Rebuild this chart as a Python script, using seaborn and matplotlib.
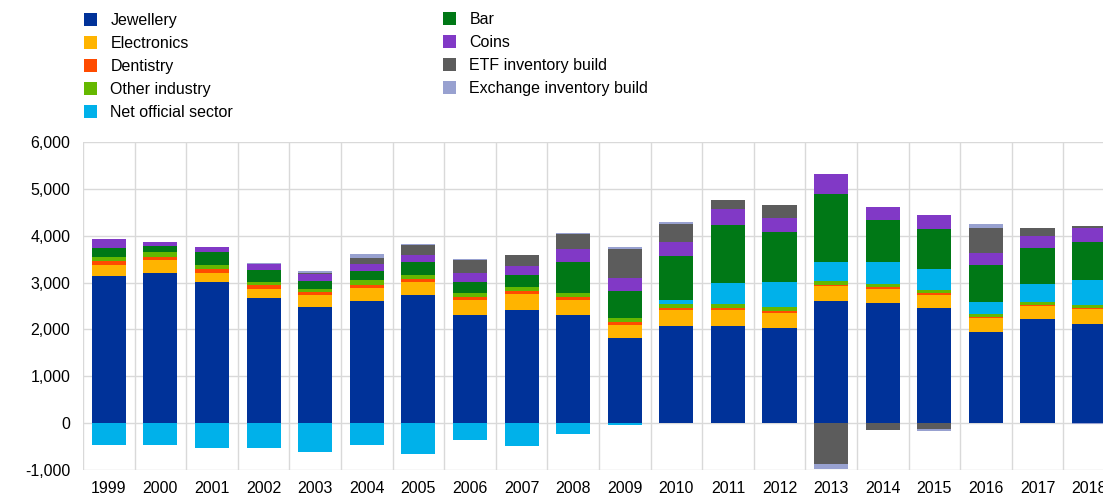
import matplotlib
matplotlib.use("Agg")
import matplotlib.pyplot as plt
from matplotlib.patches import Patch
import numpy as np
import pandas as pd
import seaborn as sns

years = [str(y) for y in range(1999, 2019)]

jewellery = [3132, 3203, 3004, 2662, 2484, 2612, 2726, 2299, 2420, 2299,
             1815, 2064, 2064, 2036, 2612, 2555, 2463, 1950, 2214, 2121]
electronics = [249, 285, 206, 206, 242, 278, 292, 334, 342, 334,
               285, 356, 356, 320, 306, 306, 277, 285, 277, 306]
dentistry = [71, 64, 71, 72, 64, 64, 50, 50, 49, 50,
             49, 36, 36, 35, 36, 36, 36, 28, 29, 29]
other_industry = [100, 106, 100, 78, 78, 92, 92, 93, 100, 100,
                  93, 92, 78, 79, 78, 71, 64, 57, 71, 71]
net_official = [-470, -470, -520, -541, -619, -470, -655, -363, -484, -228,
                -43, 71, 462, 541, 406, 470, 448, 271, 370, 533]
bar = [185, 114, 263, 242, 171, 207, 271, 242, 242, 655,
       569, 940, 1239, 1060, 1445, 889, 861, 776, 776, 798]
coins = [185, 100, 107, 128, 142, 149, 149, 185, 199, 270,
         285, 299, 327, 299, 434, 278, 292, 263, 249, 299]
etf = [0, 0, 0, 0, 29, 128, 214, 277, 242, 320,
       619, 384, 192, 278, -875, -149, -121, 534, 178, 57]
exchange = [0, 0, -10, 28, 36, 86, 35, 22, 0, 29,
            36, 50, 0, 0, -100, 0, -43, 85, 0, -20]

series = ["Jewellery", "Electronics", "Dentistry", "Other industry", "Net official sector",
          "Bar", "Coins", "ETF inventory build", "Exchange inventory build"]
colors = ["#003299", "#ffb400", "#ff4b00", "#65b800", "#00b1ea",
          "#007816", "#8139c6", "#5c5c5c", "#98a1d0"]

df = pd.DataFrame({
    "year": years,
    "Jewellery": jewellery,
    "Electronics": electronics,
    "Dentistry": dentistry,
    "Other industry": other_industry,
    "Net official sector": net_official,
    "Bar": bar,
    "Coins": coins,
    "ETF inventory build": etf,
    "Exchange inventory build": exchange,
})

sns.set_style("whitegrid")
plt.rcParams["font.family"] = ["Liberation Sans", "DejaVu Sans"]
plt.rcParams["text.color"] = "#000000"

fig = plt.figure(figsize=(11.03, 4.95), dpi=100)
ax = fig.add_axes([0.0752, 0.0505, 0.9356, 0.6626])

# stack positives upward and negatives downward
pos = np.zeros(len(years))
neg = np.zeros(len(years))
for name, col in zip(series, colors):
    vals = df[name].to_numpy(dtype=float)
    bottom = np.where(vals >= 0, pos, neg)
    sns.barplot(x=df["year"], y=vals, bottom=bottom, color=col, width=0.66,
                linewidth=0, saturation=1, ax=ax)
    pos += np.where(vals > 0, vals, 0)
    neg += np.where(vals < 0, vals, 0)

ax.set_ylim(-1000, 6000)
ax.set_xlim(-0.5, len(years) - 0.5)
ax.set_yticks(range(-1000, 6001, 1000))
ax.set_yticklabels([f"{v:,}" for v in range(-1000, 6001, 1000)], fontsize=11.5, color="black")
ax.set_xticks(np.arange(len(years)))
ax.set_xticklabels(years, fontsize=11.5, color="black")
ax.set_xticks(np.arange(len(years)) - 0.5, minor=True)
ax.grid(False)
ax.grid(True, axis="y", color="#d9d9d9", linewidth=1)
ax.grid(True, axis="x", which="minor", color="#d9d9d9", linewidth=1)
ax.set_axisbelow(True)
ax.tick_params(axis="both", which="both", length=0)
ax.tick_params(axis="y", pad=9)
ax.tick_params(axis="x", pad=8)
ax.set_xlabel("")
ax.set_ylabel("")
for s in ax.spines.values():
    s.set_visible(False)

handles = [Patch(facecolor=c, edgecolor="none", label=n) for n, c in zip(series, colors)]
leg_kw = dict(loc="upper left", frameon=False, fontsize=11.5, handlelength=0.8,
              handleheight=0.8, handletextpad=0.85, labelspacing=0.5,
              borderpad=0, borderaxespad=0)
leg1 = fig.legend(handles=handles[:5], bbox_to_anchor=(84 / 1103, 1 - 13 / 495), **leg_kw)
leg2 = fig.legend(handles=handles[5:], bbox_to_anchor=(443 / 1103, 1 - 12 / 495), **leg_kw)

fig.savefig("out.png", dpi=100)
